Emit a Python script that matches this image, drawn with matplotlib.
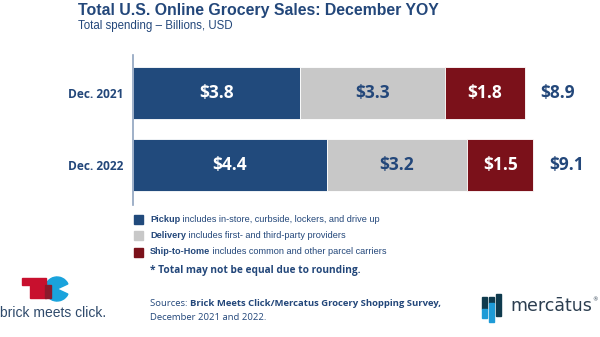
import matplotlib
matplotlib.use("Agg")
import matplotlib.pyplot as plt
from matplotlib.patches import Rectangle, Wedge

# data
years = ["Dec. 2021", "Dec. 2022"]
pickup = [3.8, 4.4]
delivery = [3.3, 3.2]
ship_home = [1.8, 1.5]
totals = [8.9, 9.1]

BLUE = "#214a7c"
GRAY = "#c8c8c8"
RED = "#7b111a"
TXT = "#23477a"

W, H = 600, 337
fig = plt.figure(figsize=(6, 3.37), dpi=100)


def fx(px):
    return px / W


def fy(py):
    return 1 - py / H


# bar axes: x 133..573 px, y 55..205 px
ax = fig.add_axes([fx(133), fy(205), 440 / W, 150 / H])
ypos = list(range(len(years)))
ax.barh(ypos, pickup, height=0.72, color=BLUE, edgecolor="white", lw=0.6)
ax.barh(ypos, delivery, left=pickup, height=0.72, color=GRAY, edgecolor="white", lw=0.6)
left3 = [a + b for a, b in zip(pickup, delivery)]
ax.barh(ypos, ship_home, left=left3, height=0.72, color=RED, edgecolor="white", lw=0.6)

lab = dict(family="Open Sans", fontweight="bold", fontsize=12.5, ha="center", va="center")
for i in ypos:
    ax.text(pickup[i] / 2, i, f"${pickup[i]:.1f}", color="white", **lab)
    ax.text(pickup[i] + delivery[i] / 2, i, f"${delivery[i]:.1f}", color=TXT, **lab)
    ax.text(left3[i] + ship_home[i] / 2, i, f"${ship_home[i]:.1f}", color="white", **lab)
    ax.text(left3[i] + ship_home[i] + 0.35, i, f"${totals[i]:.1f}", color=TXT,
            family="Open Sans", fontweight="bold", fontsize=12.5, ha="left", va="center")

ax.set_xlim(0, 10)
ax.set_ylim(1.555, -0.528)
ax.set_yticks(ypos)
ax.set_yticklabels(years, family="Open Sans", fontweight="bold", fontsize=8.6, color=TXT)
ax.tick_params(axis="y", length=0, pad=7)
ax.set_xticks([])
for s in ["top", "right", "bottom"]:
    ax.spines[s].set_visible(False)
ax.spines["left"].set_color("#8fa3bf")
ax.spines["left"].set_linewidth(1.2)

# overlay for titles, legend, notes, logos
ov = fig.add_axes([0, 0, 1, 1])
ov.set_xlim(0, W)
ov.set_ylim(H, 0)
ov.axis("off")

ov.text(78, 10, "Total U.S. Online Grocery Sales: December YOY", family="Liberation Sans",
        fontweight="bold", fontsize=11.4, color=TXT, va="center")
ov.text(78, 26, "Total spending \u2013 Billions, USD", family="Liberation Sans",
        fontsize=8.3, color=TXT, va="center")

legend_rows = [
    (BLUE, "Pickup", " includes in-store, curbside, lockers, and drive up"),
    (GRAY, "Delivery", " includes first- and third-party providers"),
    (RED, "Ship-to-Home", " includes common and other parcel carriers"),
]
for k, (c, bold, rest) in enumerate(legend_rows):
    y = 219 + k * 16.5
    ov.add_patch(Rectangle((134, y - 4.5), 9, 9, color=c))
    t = ov.text(150, y, bold, family="Liberation Sans", fontweight="bold",
                fontsize=6.6, color=TXT, va="center")
    ov.annotate(rest, xycoords=t, xy=(1, 0.5), va="center", family="Liberation Sans",
                fontsize=6.6, color=TXT)

ov.text(150, 271, "* Total may not be equal due to rounding.", family="Open Sans",
        fontweight="bold", fontsize=7.3, color=TXT, va="center")
t = ov.text(150, 304, "Sources: ", family="Open Sans", fontsize=6.8, color=TXT, va="center")
ov.annotate("Brick Meets Click/Mercatus Grocery Shopping Survey,", xycoords=t, xy=(1, 0.5),
            va="center", family="Open Sans", fontweight="bold", fontsize=6.8, color=TXT)
ov.text(150, 317, "December 2021 and 2022.", family="Open Sans", fontsize=6.8,
        color=TXT, va="center")

# brick meets click logo
ov.add_patch(Wedge((57, 289), 12, 25, 335, color="#1aa3dc"))
ov.add_patch(Rectangle((22, 278), 24, 7, color="#c8102e"))
ov.add_patch(Rectangle((30, 285), 16, 13, color="#c8102e"))
ov.add_patch(Rectangle((45, 285), 6, 13, color="#8b1a2c"))
ov.text(0, 313, "brick meets click.", family="Liberation Sans", fontsize=10,
        color="#2f4a6b", va="center")

# mercatus logo
ov.add_patch(Rectangle((482, 297), 5, 12, color="#0f3a4d"))
ov.add_patch(Rectangle((482, 309), 5, 9, color="#1e9bd7"))
ov.add_patch(Rectangle((489, 297), 5, 6, color="#0f3a4d"))
ov.add_patch(Rectangle((489, 303), 5, 19, color="#1e9bd7"))
ov.add_patch(Rectangle((496, 294), 5, 22, color="#0f3a4d"))
ov.text(510, 306, "merc\u0101tus", family="DejaVu Sans", fontsize=12.5,
        color="#2c3e50", va="center")
ov.text(598, 300, "\u00ae", family="DejaVu Sans", fontsize=4, color="#2c3e50",
        va="center", ha="right")

fig.savefig("out.png", dpi=100)
